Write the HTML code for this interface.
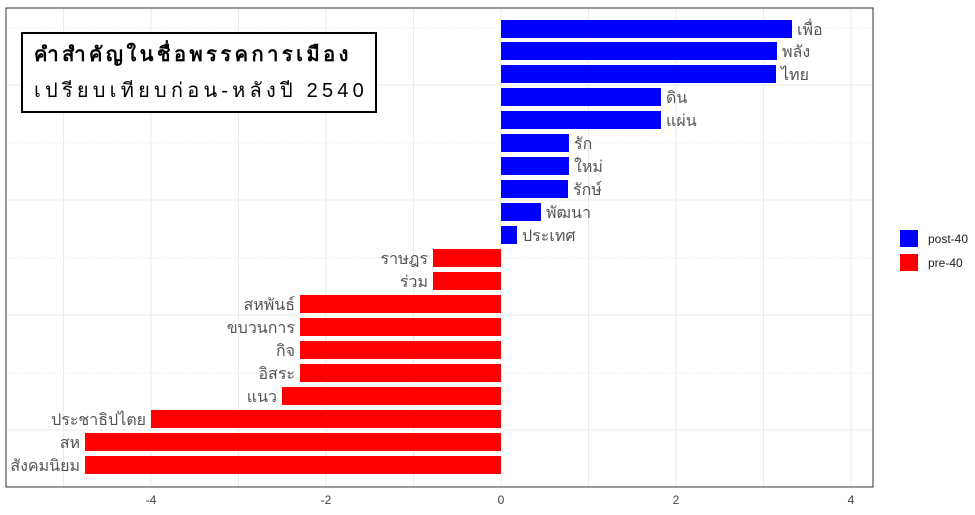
<!DOCTYPE html>
<html><head><meta charset="utf-8"><style>
body{margin:0;background:#fff;}
text{font-family:"Liberation Sans","Noto Sans CJK SC",sans-serif;}
</style></head><body>
<svg width="975" height="510" xmlns="http://www.w3.org/2000/svg">
<rect x="0" y="0" width="975" height="510" fill="#fff"/>
<g stroke="#ebebeb" stroke-width="1">
<line x1="63.5" y1="8" x2="63.5" y2="487"/><line x1="151" y1="8" x2="151" y2="487"/><line x1="238.5" y1="8" x2="238.5" y2="487"/><line x1="326" y1="8" x2="326" y2="487"/><line x1="413.5" y1="8" x2="413.5" y2="487"/><line x1="501" y1="8" x2="501" y2="487"/><line x1="588.5" y1="8" x2="588.5" y2="487"/><line x1="676" y1="8" x2="676" y2="487"/><line x1="763.5" y1="8" x2="763.5" y2="487"/><line x1="851" y1="8" x2="851" y2="487"/>
<line x1="6" y1="85" x2="873" y2="85"/><line x1="6" y1="200" x2="873" y2="200"/><line x1="6" y1="315" x2="873" y2="315"/><line x1="6" y1="430" x2="873" y2="430"/>
</g>
<g stroke="#e0e0e0" stroke-width="1" stroke-dasharray="1,2">
<line x1="6" y1="28" x2="873" y2="28"/><line x1="6" y1="143" x2="873" y2="143"/><line x1="6" y1="258" x2="873" y2="258"/><line x1="6" y1="373" x2="873" y2="373"/>
</g>
<g fill="#0000ff">
<rect x="501" y="20" width="291" height="18"/><rect x="501" y="42" width="276" height="18"/><rect x="501" y="65" width="275" height="18"/>
<rect x="501" y="88" width="160" height="18"/><rect x="501" y="111" width="160" height="18"/>
<rect x="501" y="134" width="68" height="18"/><rect x="501" y="157" width="68" height="18"/><rect x="501" y="180" width="67" height="18"/>
<rect x="501" y="203" width="40" height="18"/><rect x="501" y="226" width="16" height="18"/>
</g>
<g fill="#ff0000">
<rect x="433" y="249" width="68" height="18"/><rect x="433" y="272" width="68" height="18"/>
<rect x="300" y="295" width="201" height="18"/><rect x="300" y="318" width="201" height="18"/><rect x="300" y="341" width="201" height="18"/><rect x="300" y="364" width="201" height="18"/>
<rect x="282" y="387" width="219" height="18"/><rect x="151" y="410" width="350" height="18"/>
<rect x="85" y="433" width="416" height="18"/><rect x="85" y="456" width="416" height="18"/>
</g>
<g fill="#555" font-size="16">
<text x="797" y="35">เพื่อ</text><text x="782" y="57">พลัง</text><text x="781" y="80">ไทย</text>
<text x="666" y="103">ดิน</text><text x="666" y="126">แผ่น</text>
<text x="574" y="149">รัก</text><text x="574" y="172">ใหม่</text><text x="573" y="195">รักษ์</text>
<text x="546" y="218">พัฒนา</text><text x="522" y="241">ประเทศ</text>
</g>
<g fill="#555" font-size="16" text-anchor="end">
<text x="428" y="264">ราษฎร</text><text x="428" y="287">ร่วม</text>
<text x="295" y="310">สหพันธ์</text><text x="295" y="333">ขบวนการ</text><text x="295" y="356">กิจ</text><text x="295" y="379">อิสระ</text>
<text x="277" y="402">แนว</text><text x="146" y="425">ประชาธิปไตย</text>
<text x="80" y="448">สห</text><text x="80" y="471">สังคมนิยม</text>
</g>
<rect x="6" y="8" width="867" height="479" fill="none" stroke="#333" stroke-width="1"/>
<g fill="#444" font-size="12" text-anchor="middle">
<text x="151" y="504">-4</text><text x="326" y="504">-2</text><text x="501" y="504">0</text><text x="676" y="504">2</text><text x="851" y="504">4</text>
</g>
<rect x="22" y="33" width="354" height="79" fill="#fff" stroke="#000" stroke-width="2"/>
<text x="34" y="61" font-size="20" font-weight="bold" fill="#000" letter-spacing="3.5">คำสำคัญในชื่อพรรคการเมือง</text>
<text x="34" y="97" font-size="20" fill="#000" letter-spacing="4.2">เปรียบเทียบก่อน-หลังปี 2540</text>
<rect x="900" y="230" width="18" height="17" fill="#0000ff"/>
<rect x="900" y="254" width="18" height="17" fill="#ff0000"/>
<text x="928" y="243" font-size="12" fill="#222">post-40</text>
<text x="928" y="267" font-size="12" fill="#222">pre-40</text>
</svg>
</body></html>
